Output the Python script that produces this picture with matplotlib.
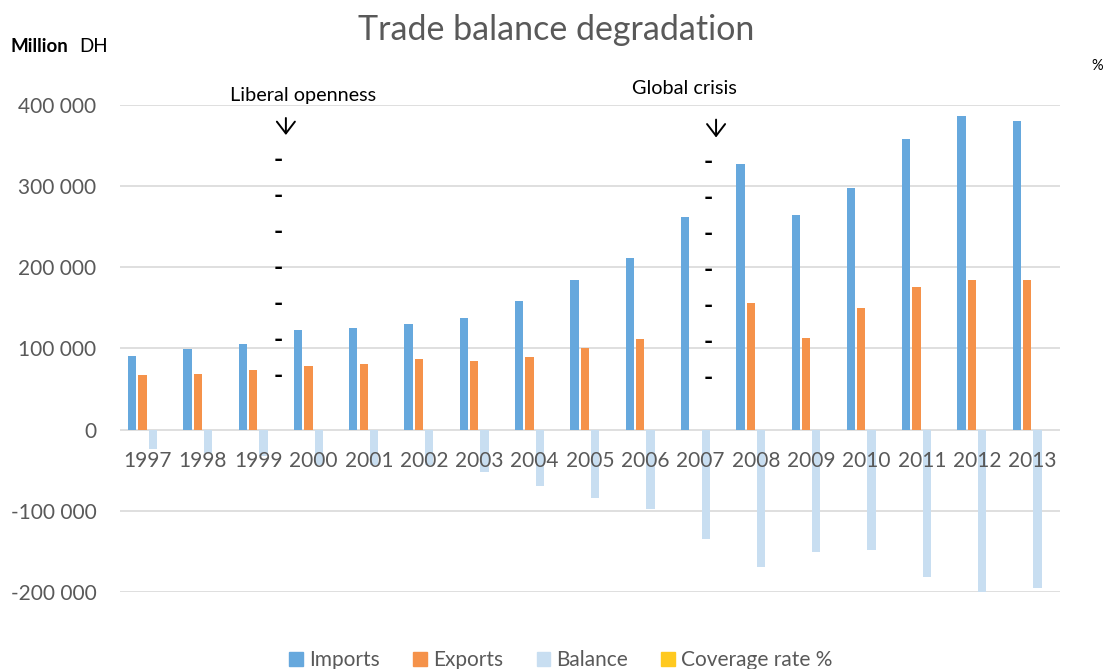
import numpy as np
import matplotlib
matplotlib.use("Agg")
import matplotlib.pyplot as plt
from matplotlib.patches import Patch

plt.rcParams["font.family"] = ["Lato", "DejaVu Sans"]

# ---- data (million DH) ----
years = ["1997", "1998", "1999", "2000", "2001", "2002", "2003", "2004", "2005",
         "2006", "2007", "2008", "2009", "2010", "2011", "2012", "2013"]
imports = [91000, 99000, 106000, 123000, 125000, 130500, 137000, 158000, 185000,
           211000, 261500, 327000, 264000, 298000, 358000, 387000, 380000]
exports = [67500, 69000, 74000, 79000, 81000, 87000, 84000, 89000, 100000,
           112000, 0, 155500, 113000, 150000, 175500, 185000, 185000]
balance = [-23500, -29000, -32000, -43000, -44000, -43500, -52000, -69000, -84000,
           -97500, -135000, -169500, -150500, -148000, -182000, -200000, -194500]
y_ticks = [-200000, -100000, 0, 100000, 200000, 300000, 400000]

C_IMP = "#66A8DD"
C_EXP = "#F5924A"
C_BAL = "#C8DEF1"
C_COV = "#FFC91F"
GREY = "#595959"

fig = plt.figure(figsize=(11.07, 6.69), dpi=100)
ax = fig.add_axes([120 / 1107, 1 - 592 / 669, 940 / 1107, 487 / 669])

x = np.arange(len(years))
slot = 0.187
w = 0.15
for k, (vals, col) in enumerate([(imports, C_IMP), (exports, C_EXP), (balance, C_BAL)]):
    ax.bar(x + (k - 1.5) * slot, vals, width=w, color=col, zorder=2, clip_on=False)

ax.set_xlim(-0.5, len(years) - 0.5)
ax.set_ylim(-200000, 400000)
ax.set_yticks(y_ticks)
ax.set_yticklabels([f"{v:,}".replace(",", " ") for v in y_ticks])
ax.tick_params(axis="y", length=0, pad=17, labelsize=15, labelcolor=GREY)
ax.set_xticks([])
for s in ax.spines.values():
    s.set_visible(False)
ax.grid(axis="y", color="#d9d9d9", linewidth=1.2, zorder=0)
ax.set_axisbelow(True)

# category labels sit next to the zero line, over the balance bars
for i, yr in enumerate(years):
    ax.annotate(yr, (i, 0), xytext=(0, -22.5), textcoords="offset points",
                ha="center", va="center", fontsize=15, color=GREY, zorder=5)

# secondary axis label for coverage rate
fig.text(1097 / 1107, 1 - 66 / 669, "%", ha="center", va="center", fontsize=10.5, color="black")

# title and unit
fig.text(556 / 1107, 1 - 30 / 669, "Trade balance degradation", ha="center", va="center",
         fontsize=24.5, color=GREY)
fig.text(10 / 1107, 1 - 46 / 669, "Million", ha="left", va="center", fontsize=13.5,
         fontweight="bold", color="black")
fig.text(79 / 1107, 1 - 46 / 669, "DH", ha="left", va="center", fontsize=13.5, color="black")

# event markers: label, arrow (x, top, bottom), dashed column (x, first y)
events = [
    ("Liberal openness", 2.81, 412000, 2.50, 384000, 363000, 2.36, 333000),
    ("Global crisis", 9.70, 420000, 10.28, 382000, 360000, 10.13, 331000),
]
step = 36 / 81 * 100000
for label, tx, ty, axx, a_top, a_bot, dx, dy in events:
    ax.text(tx, ty, label, ha="center", va="center", fontsize=14.3, color="black", clip_on=False)
    ax.annotate("", xy=(axx, a_bot), xytext=(axx, a_top), annotation_clip=False,
                arrowprops=dict(arrowstyle="->,head_width=0.65,head_length=0.85",
                                color="black", lw=1.4, shrinkA=0, shrinkB=0))
    for j in range(7):
        ax.text(dx, dy - j * step, "-", ha="center", va="center", fontsize=18,
                fontweight="bold", color="black", zorder=4)

handles = [Patch(color=C_IMP, label="Imports"), Patch(color=C_EXP, label="Exports"),
           Patch(color=C_BAL, label="Balance"), Patch(color=C_COV, label="Coverage rate %")]
leg = fig.legend(handles=handles, loc="center", bbox_to_anchor=(561 / 1107, 1 - 660 / 669),
                 ncol=4, frameon=False, fontsize=15, handlelength=0.65, handleheight=0.65,
                 handletextpad=0.3, columnspacing=1.6, borderaxespad=0)
for t in leg.get_texts():
    t.set_color(GREY)

fig.savefig("out.png", dpi=100)
